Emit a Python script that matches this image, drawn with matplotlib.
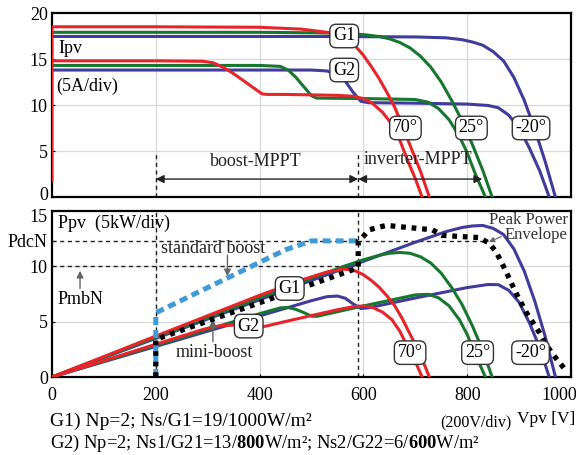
import matplotlib
matplotlib.use("Agg")
import matplotlib.pyplot as plt
import matplotlib.transforms as mtransforms
import numpy as np

plt.rcParams['font.family'] = ['Liberation Serif', 'DejaVu Serif']
plt.rcParams['mathtext.fontset'] = 'custom'
plt.rcParams['mathtext.rm'] = 'Liberation Serif'
plt.rcParams['mathtext.bf'] = 'Liberation Serif:bold'
plt.rcParams['mathtext.it'] = 'Liberation Serif:italic'

# ---- I-V curves (V in volts, I in amps) ----
# G1: uniform 1000 W/m2
v_g1_70 = [0, 0, 200, 400, 480, 530, 560, 580, 600, 615, 630, 645, 660, 675, 690, 710, 727]
i_g1_70 = [1.8, 18.5, 18.5, 18.45, 18.25, 17.9, 17.4, 16.7, 15.4, 14.2, 12.9, 11.4, 9.8, 7.8, 5.6, 2.8, 0]
v_g1_25 = [0, 400, 500, 560, 600, 630, 650, 670, 690, 710, 730, 750, 770, 790, 810, 830, 848]
i_g1_25 = [17.9, 17.9, 17.85, 17.8, 17.65, 17.45, 17.2, 16.8, 16.2, 15.3, 14.1, 12.5, 10.5, 8.3, 5.7, 2.9, 0]
v_g1_m20 = [0, 500, 700, 760, 790, 810, 830, 850, 870, 890, 910, 930, 950, 970]
i_g1_m20 = [17.45, 17.45, 17.4, 17.3, 17.1, 16.85, 16.5, 15.8, 14.8, 13.0, 10.5, 7.4, 3.9, 0]

# G2: 13 modules at 800 W/m2, 6 modules at 600 W/m2
v_g2_70 = [0, 200, 290, 310, 330, 350, 370, 390, 405, 415, 450, 500, 550, 580, 600, 617, 637, 655, 670, 685, 700, 713]
i_g2_70 = [14.8, 14.8, 14.75, 14.6, 14.1, 13.4, 12.6, 11.8, 11.2, 11.15, 11.15, 11.1, 11.05, 10.95, 10.7, 10.2, 9.2, 7.9, 6.2, 4.0, 2.0, 0]
v_g2_25 = [0, 400, 440, 455, 470, 485, 500, 510, 600, 700, 725, 745, 765, 785, 800, 815, 835]
i_g2_25 = [14.3, 14.3, 14.2, 13.8, 13.0, 12.0, 11.0, 10.75, 10.7, 10.6, 10.3, 9.6, 8.4, 6.6, 4.8, 2.6, 0]
v_g2_m20 = [0, 500, 530, 550, 565, 580, 595, 610, 700, 800, 840, 860, 880, 900, 920, 940, 958]
i_g2_m20 = [13.8, 13.8, 13.7, 13.3, 12.6, 11.4, 10.4, 10.25, 10.2, 10.1, 9.95, 9.7, 8.9, 7.5, 5.3, 2.8, 0]

# ---- power traces (kW) ----
v_std_boost = [200, 200, 450, 500, 590]
p_std_boost = [0, 5.8, 11.5, 12.3, 12.3]
v_envelope = [200, 200, 580, 590, 590, 598, 611, 644, 688, 733, 752, 785, 823, 842, 856, 875, 894, 913, 938, 952, 971, 990]
p_envelope = [0, 3.4, 9.7, 9.9, 12.3, 12.6, 13.3, 13.7, 13.5, 13.3, 12.8, 12.7, 12.6, 12.1, 11.3, 9.5, 7.6, 5.9, 4.1, 2.9, 1.7, 0.6]

P_DCN = 12.3
P_MBN = 10.0
V_BOOST_MIN = 200
V_SPLIT = 590
V_INV_MAX = 829

x_ticks = [0, 200, 400, 600, 800, 1000]
y_ticks_top = [0, 5, 10, 15, 20]
y_ticks_bot = [0, 5, 10, P_DCN, 15]
y_labels_bot = ['0', '5', '10', 'PdcN', '15']

RED = '#e8242b'
GREEN = '#18772f'
BLUE = '#3f3c9c'
LBLUE = '#3d9bd8'
GRID = '#d8d8d8'

curves = [
    (v_g1_m20, i_g1_m20, BLUE), (v_g2_m20, i_g2_m20, BLUE),
    (v_g1_25, i_g1_25, GREEN), (v_g2_25, i_g2_25, GREEN),
    (v_g1_70, i_g1_70, RED), (v_g2_70, i_g2_70, RED),
]

W, H = 576, 455
fig = plt.figure(figsize=(W / 100, H / 100), dpi=100)
ax1 = fig.add_axes([52 / W, 1 - 197 / H, 519 / W, 184 / H])
ax2 = fig.add_axes([52 / W, 1 - 377 / H, 519 / W, 166 / H])

box = dict(boxstyle='round,pad=0.18,rounding_size=0.35', fc='white', ec='#333333', lw=1.0)
fs = 13

for ax in (ax1, ax2):
    ax.set_xlim(0, 1000)
    for s in ax.spines.values():
        s.set_linewidth(1.6)
    for xv in [200, 400, 600, 800]:
        ax.axvline(xv, color=GRID, lw=0.9, zorder=0)
    ax.tick_params(axis='both', direction='in', length=2, labelsize=fs, pad=3)

# ---- top panel: current ----
ax1.set_ylim(0, 20)
ax1.set_yticks(y_ticks_top)
ax1.set_xticks(x_ticks)
ax1.tick_params(axis='x', labelbottom=False, length=0)
for yv in [5, 10, 15]:
    ax1.axhline(yv, color=GRID, lw=0.9, zorder=0)
for v, i, c in curves:
    ax1.plot(v, i, color=c, lw=2.2, solid_joinstyle='round', zorder=3)

for xv in (V_BOOST_MIN, V_SPLIT):
    ax1.plot([xv, xv], [0, 4.9], color='#222222', lw=1.0, ls=(0, (3, 2.5)), zorder=4)
ax1.annotate('', xy=(V_BOOST_MIN, 1.95), xytext=(V_SPLIT, 1.95),
             arrowprops=dict(arrowstyle='<|-|>', color='#222222', lw=1.0,
                             shrinkA=0, shrinkB=0, mutation_scale=12), zorder=5)
ax1.annotate('', xy=(V_INV_MAX, 1.95), xytext=(V_SPLIT, 1.95),
             arrowprops=dict(arrowstyle='<|-|>', color='#222222', lw=1.0,
                             shrinkA=0, shrinkB=0, mutation_scale=12), zorder=5)
ax1.text(392, 2.9, 'boost-MPPT', fontsize=fs, ha='center', va='bottom', color='#222222')
ax1.text(600, 3.1, 'inverter-MPPT', fontsize=fs, ha='left', va='bottom', color='#222222')
ax1.text(12, 16.1, 'Ipv', fontsize=fs, ha='left', va='center')
ax1.text(9, 12.0, '(5A/div)', fontsize=fs, ha='left', va='center')
ax1.text(563, 17.5, 'G1', fontsize=fs, ha='center', va='center', bbox=box, zorder=6)
ax1.text(563, 13.8, 'G2', fontsize=fs, ha='center', va='center', bbox=box, zorder=6)
for vx, lab in [(681, '70°'), (808, '25°'), (923, '-20°')]:
    ax1.text(vx, 7.5, lab, fontsize=fs, ha='center', va='center', bbox=box, zorder=6)

# nudge the tick label that sits where the panels meet
fig.canvas.draw()
ax1.get_yticklabels()[0].set_transform(
    ax1.get_yticklabels()[0].get_transform() + mtransforms.ScaledTranslation(0, 4 / 100, fig.dpi_scale_trans))

# ---- bottom panel: power ----
ax2.set_ylim(0, 15)
ax2.set_yticks(y_ticks_bot)
ax2.set_yticklabels(y_labels_bot)
ax2.set_xticks(x_ticks)
ax2.tick_params(axis='x', pad=7)
for yv in [5, 10]:
    ax2.axhline(yv, color=GRID, lw=0.9, zorder=0)
for v, i, c in curves:
    v = np.asarray(v, float)
    p = v * np.asarray(i, float) / 1000.0
    ax2.plot(v, p, color=c, lw=2.2, solid_joinstyle='round', zorder=3)

ax2.plot(v_std_boost, p_std_boost, color=LBLUE, lw=3.6, ls=(0, (1.6, 1.0)), zorder=4)
ax2.plot(v_envelope, p_envelope, color='black', lw=3.8, ls=(0, (0.9, 1.1)), zorder=5)

for xv in (V_BOOST_MIN, V_SPLIT):
    ax2.axvline(xv, color='#222222', lw=1.0, ls=(0, (3, 2.5)), zorder=2)
ax2.plot([0, 840], [P_DCN, P_DCN], color='#222222', lw=1.0, ls=(0, (3, 2.5)), zorder=2)
ax2.plot([0, V_SPLIT], [P_MBN, P_MBN], color='#222222', lw=1.0, ls=(0, (3, 2.5)), zorder=2)

ax2.text(12, 13.9, 'Ppv  (5kW/div)', fontsize=fs, ha='left', va='center')
ax2.text(54, 7.0, 'PmbN', fontsize=fs, ha='center', va='center')
ax2.annotate('', xy=(54, 9.6), xytext=(54, 8.0),
             arrowprops=dict(arrowstyle='-|>', color='#666666', lw=1.0, mutation_scale=10,
                             shrinkA=0, shrinkB=0))
ax2.text(311, 11.6, 'standard boost', fontsize=fs, ha='center', va='center', color='#222222')
ax2.annotate('', xy=(338, 9.1), xytext=(338, 11.0),
             arrowprops=dict(arrowstyle='-|>', color='#666666', lw=1.0, mutation_scale=10,
                             shrinkA=0, shrinkB=0))
ax2.text(313, 2.2, 'mini-boost', fontsize=fs, ha='center', va='center', color='#222222')
ax2.annotate('', xy=(310, 5.2), xytext=(310, 3.2),
             arrowprops=dict(arrowstyle='-|>', color='#666666', lw=1.0, mutation_scale=10,
                             shrinkA=0, shrinkB=0))
ax2.text(994, 14.2, 'Peak Power', fontsize=12, ha='right', va='center', color='#333333')
ax2.text(994, 12.8, 'Envelope', fontsize=12, ha='right', va='center', color='#333333')
ax2.annotate('', xy=(842, 12.2), xytext=(866, 12.7),
             arrowprops=dict(arrowstyle='-|>', color='#666666', lw=0.8, mutation_scale=8,
                             shrinkA=0, shrinkB=0))
ax2.text(458, 8.0, 'G1', fontsize=fs, ha='center', va='center', bbox=box, zorder=6)
ax2.text(379, 4.6, 'G2', fontsize=fs, ha='center', va='center', bbox=box, zorder=6)
for vx, lab in [(690, '70°'), (820, '25°'), (922, '-20°')]:
    ax2.text(vx, 2.2, lab, fontsize=fs, ha='center', va='center', bbox=box, zorder=6)

fig.canvas.draw()
tl = ax2.get_xticklabels()
tl[-1].set_horizontalalignment('right')
tl[-1].set_transform(tl[-1].get_transform() + mtransforms.ScaledTranslation(6 / 100, 0, fig.dpi_scale_trans))
yl = ax2.get_yticklabels()
yl[-1].set_transform(yl[-1].get_transform() + mtransforms.ScaledTranslation(0, -4 / 100, fig.dpi_scale_trans))

# ---- captions below the axes ----
fig.text(50 / W, 1 - 426 / H, 'G1) Np=2; Ns/G1=19/1000W/m²', fontsize=14, ha='left', va='baseline')
fig.text(440 / W, 1 - 426 / H, '(200V/div)', fontsize=11.5, ha='left', va='baseline')
fig.text(575 / W, 1 - 423 / H, 'Vpv [V]', fontsize=12.5, ha='right', va='baseline')
fig.text(50 / W, 1 - 448 / H,
         r'G2) Np=2; Ns1/G21=13/$\mathbf{800}$W/m²; Ns2/G22=6/$\mathbf{600}$W/m²',
         fontsize=13.3, ha='left', va='baseline')

fig.savefig('out.png', dpi=100)
